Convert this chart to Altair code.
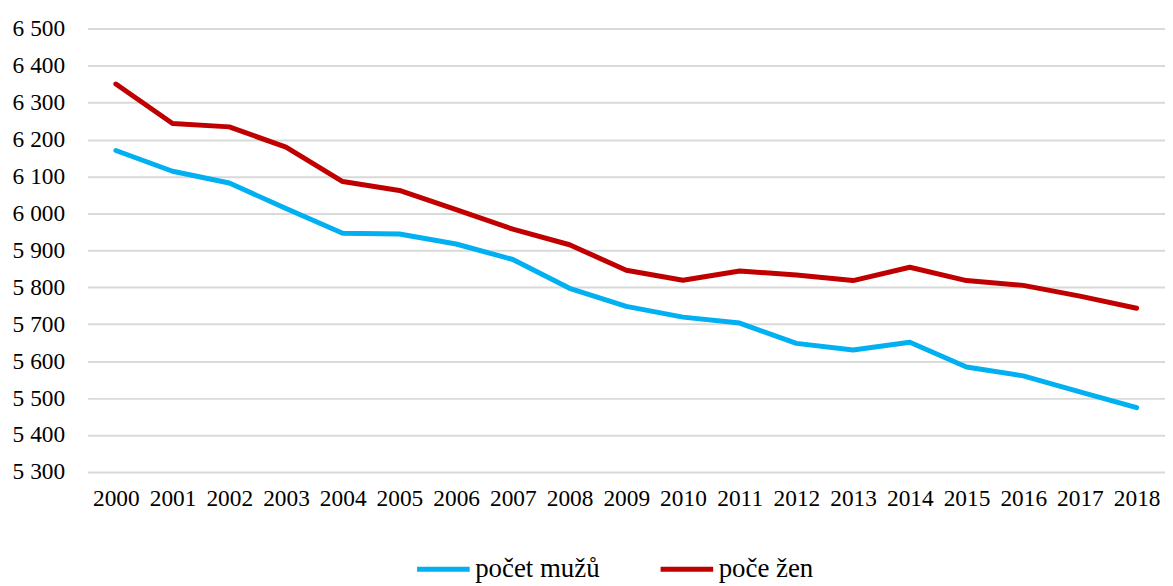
import altair as alt
import pandas as pd

years = [str(y) for y in range(2000, 2019)]
muzi = [6170, 6114, 6082, 6013, 5946, 5944, 5917, 5875, 5797, 5748, 5719, 5703, 5648, 5630, 5651, 5584, 5560, 5517, 5474]
zeny = [6350, 6243, 6234, 6179, 6086, 6062, 6010, 5957, 5915, 5846, 5819, 5844, 5833, 5818, 5854, 5818, 5805, 5776, 5743]
series_names = ["počet mužů", "poče žen"]
series_colors = ["#00B0F0", "#C00000"]

rows = []
for i, y in enumerate(years):
    rows.append({"rok": y, "serie": series_names[0], "hodnota": muzi[i]})
    rows.append({"rok": y, "serie": series_names[1], "hodnota": zeny[i]})
df = pd.DataFrame(rows)

FONT = "Liberation Serif"

chart = alt.Chart(df).mark_line(strokeWidth=5, strokeCap="round", strokeJoin="round").encode(
    x=alt.X("rok:O", title=None,
            scale=alt.Scale(padding=0.5),
            axis=alt.Axis(labelAngle=0, domain=False, ticks=False, labelPadding=15,
                          labelFontSize=23.5, labelFont=FONT, labelColor="#000000")),
    y=alt.Y("hodnota:Q", title=None,
            scale=alt.Scale(domain=[5300, 6500], nice=False, zero=False),
            axis=alt.Axis(values=list(range(5300, 6501, 100)), domain=False, ticks=False,
                          labelPadding=23, labelFontSize=23.5, labelFont=FONT, labelColor="#000000",
                          gridColor="#D9D9D9", gridWidth=2,
                          labelExpr="replace(format(datum.value, ','), ',', ' ')")),
    color=alt.Color("serie:N", sort=series_names,
                    scale=alt.Scale(domain=series_names, range=series_colors),
                    legend=alt.Legend(title=None, orient="none", direction="horizontal",
                                      legendX=329, legendY=515,
                                      symbolType="stroke", symbolSize=2800, symbolStrokeWidth=5,
                                      labelFontSize=27, labelFont=FONT, labelColor="#000000",
                                      labelOffset=3, columnPadding=50)),
    detail="serie:N",
).properties(
    width=1084, height=446,
    autosize=alt.AutoSizeParams(type="none"),
    padding={"left": 80, "top": 19, "right": 0, "bottom": 112},
).configure_view(stroke=None)

chart.save("out.html", embed_options={"renderer": "svg", "actions": False})
